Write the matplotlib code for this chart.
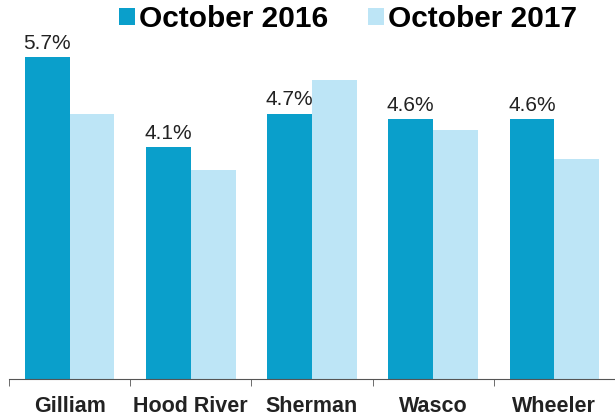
import numpy as np
import matplotlib
matplotlib.use("Agg")
import matplotlib.pyplot as plt

plt.rcParams['font.family'] = ['Liberation Sans', 'DejaVu Sans']

# Unemployment rates by county
counties = ['Gilliam', 'Hood River', 'Sherman', 'Wasco', 'Wheeler']
oct_2016 = [5.7, 4.1, 4.7, 4.6, 4.6]
oct_2017 = [4.7, 3.7, 5.3, 4.4, 3.9]

dark = '#0a9fcb'
light = '#bde5f6'

fig = plt.figure(figsize=(6.15, 4.17), dpi=100)
ax = fig.add_axes([9 / 615, 1 - 379 / 417, 606 / 615, 379 / 417])

x = np.arange(len(counties))
w = 0.37
b1 = ax.bar(x - w / 2, oct_2016, w, color=dark, label='October 2016')
b2 = ax.bar(x + w / 2, oct_2017, w, color=light, label='October 2017')

ax.bar_label(b1, labels=[f'{v}%' for v in oct_2016], padding=3,
             fontsize=15, color='#222222')

ax.set_xlim(-0.5, 4.45)
ax.set_ylim(0, 6.71)

for s in ['top', 'right', 'left']:
    ax.spines[s].set_visible(False)
ax.spines['bottom'].set_color('#555555')
ax.set_yticks([])

ax.set_xticks(x)
ax.set_xticklabels(counties, fontsize=15.5, fontweight='bold', color='#222222')
ax.tick_params(axis='x', which='major', length=0, pad=12)
ax.set_xticks(np.arange(-0.5, 4.6, 1), minor=True)
ax.tick_params(axis='x', which='minor', length=5, color='#555555')

fig.legend(handles=[b1, b2], loc='center', bbox_to_anchor=(0.566, 0.955),
           ncol=2, frameon=False, handlelength=0.55, handleheight=0.5,
           handletextpad=0.15, columnspacing=1.3,
           prop={'size': 21.5, 'weight': 'bold'})

plt.savefig('out.png', dpi=100)
